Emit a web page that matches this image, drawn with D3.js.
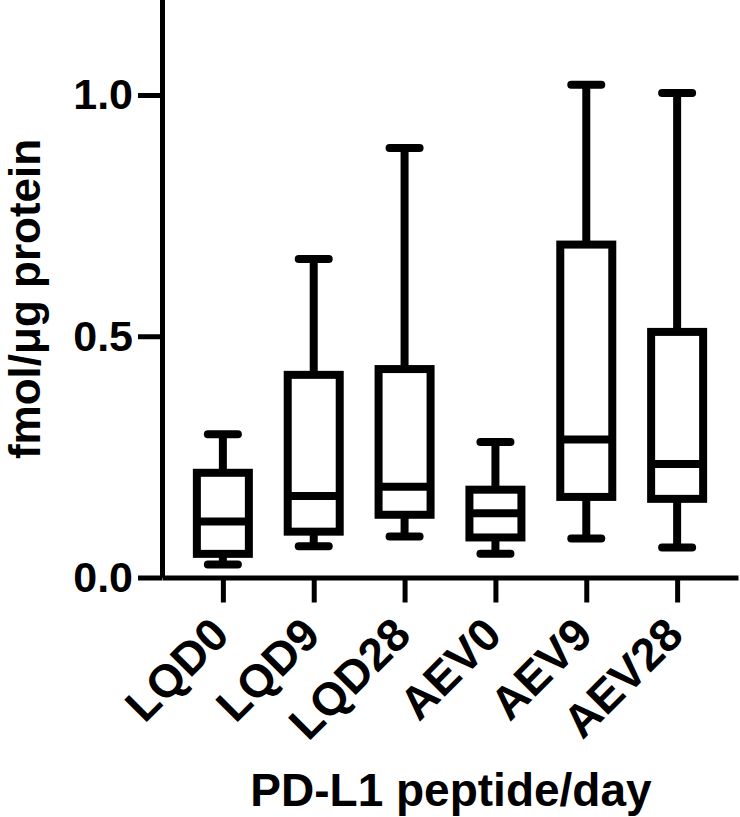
<html>
<head>
    <script src="https://cdn.jsdelivr.net/npm/d3@7"></script>
    <style>
        body {
            margin: 0;
            background: white;
        }
        svg text {
            font-family: Arial, "Liberation Sans", Helvetica, sans-serif;
            font-weight: bold;
            fill: black;
        }
    </style>
</head>
<body>
    <svg id="chart" width="740" height="817"></svg>
<script>
    // values (fmol/ug protein)
    let categories = ["LQD0", "LQD9", "LQD28", "AEV0", "AEV9", "AEV28"];
    let minVals = [0.027, 0.065, 0.085, 0.049, 0.081, 0.062];
    let q1Vals = [0.049, 0.095, 0.130, 0.083, 0.167, 0.163];
    let medianVals = [0.116, 0.169, 0.188, 0.133, 0.286, 0.235];
    let q3Vals = [0.217, 0.420, 0.432, 0.182, 0.690, 0.509];
    let maxVals = [0.297, 0.660, 0.890, 0.281, 1.021, 1.004];
    let yTicks = [0, 0.5, 1.0];

    let svg = d3.select("#chart");

    let x = d3.scalePoint()
        .domain(categories)
        .range([162, 738])
        .padding(0.67);

    let y = d3.scaleLinear()
        .domain([0, 1.2])
        .range([577.5, -1.5]);

    // build one row per box
    let boxes = categories.map((c, i) => ({
        name: c,
        min: minVals[i],
        q1: q1Vals[i],
        median: medianVals[i],
        q3: q3Vals[i],
        max: maxVals[i]
    }));

    let boxHalf = 26;
    let capHalf = 15;
    let sw = 8;

    let g = svg.append("g");

    let box = g.selectAll(".box")
        .data(boxes)
        .enter().append("g")
        .attr("class", "box")
        .attr("transform", d => "translate(" + x(d.name) + ",0)");

    // whiskers
    box.append("line")
        .attr("x1", 0).attr("x2", 0)
        .attr("y1", d => y(d.max)).attr("y2", d => y(d.q3))
        .attr("stroke", "black").attr("stroke-width", sw);
    box.append("line")
        .attr("x1", 0).attr("x2", 0)
        .attr("y1", d => y(d.q1)).attr("y2", d => y(d.min))
        .attr("stroke", "black").attr("stroke-width", sw);

    // caps
    box.append("line")
        .attr("x1", -capHalf).attr("x2", capHalf)
        .attr("y1", d => y(d.max)).attr("y2", d => y(d.max))
        .attr("stroke", "black").attr("stroke-width", sw)
        .attr("stroke-linecap", "round");
    box.append("line")
        .attr("x1", -capHalf).attr("x2", capHalf)
        .attr("y1", d => y(d.min)).attr("y2", d => y(d.min))
        .attr("stroke", "black").attr("stroke-width", sw)
        .attr("stroke-linecap", "round");

    // box
    box.append("rect")
        .attr("x", -boxHalf)
        .attr("width", boxHalf * 2)
        .attr("y", d => y(d.q3))
        .attr("height", d => y(d.q1) - y(d.q3))
        .attr("fill", "white")
        .attr("stroke", "black")
        .attr("stroke-width", sw);

    // median
    box.append("line")
        .attr("x1", -boxHalf).attr("x2", boxHalf)
        .attr("y1", d => y(d.median)).attr("y2", d => y(d.median))
        .attr("stroke", "black").attr("stroke-width", sw);

    // axes
    let yAxis = svg.append("g")
        .attr("transform", "translate(162,0)")
        .call(d3.axisLeft(y).tickValues(yTicks).tickFormat(d3.format(".1f"))
            .tickSize(24).tickSizeOuter(0).tickPadding(5));

    let xAxis = svg.append("g")
        .attr("transform", "translate(0,577.5)")
        .call(d3.axisBottom(x).tickSize(25).tickSizeOuter(0));

    svg.selectAll(".domain, .tick line")
        .attr("stroke", "black")
        .attr("stroke-width", 5);

    yAxis.selectAll("text")
        .style("font-size", "43px");

    xAxis.selectAll(".tick text")
        .attr("y", null).attr("dy", null)
        .attr("text-anchor", "end")
        .attr("transform", "translate(8,60) rotate(-45)")
        .style("font-size", "46px");

    // titles
    svg.append("text")
        .attr("transform", "translate(40,299) rotate(-90)")
        .attr("text-anchor", "middle")
        .style("font-size", "44px")
        .text("fmol/\u03bcg protein");

    svg.append("text")
        .attr("x", 451)
        .attr("y", 806)
        .attr("text-anchor", "middle")
        .style("font-size", "46px")
        .text("PD-L1 peptide/day");
</script>
</body>
</html>
